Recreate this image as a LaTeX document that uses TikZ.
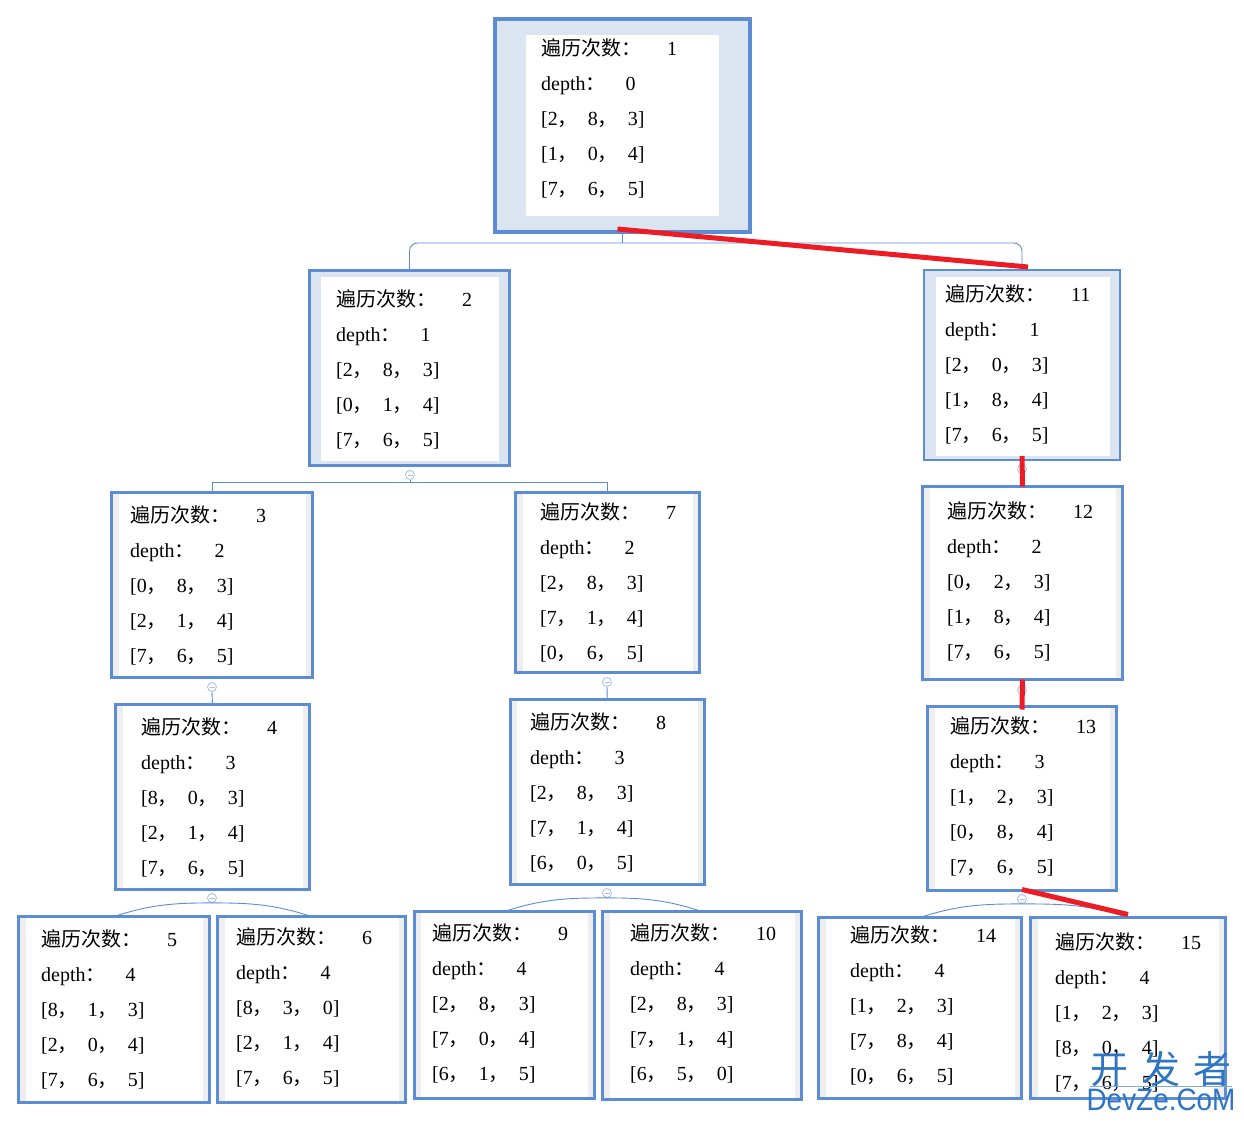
\documentclass[tikz,border=0pt]{standalone}
\usepackage{fontspec}
\setmainfont{Liberation Serif}
\newfontfamily\cjk{Noto Sans CJK SC}
\newfontfamily\marksans{Liberation Sans}
\usetikzlibrary{positioning}

\definecolor{edgeblue}{RGB}{91,140,212}
\definecolor{paleblue}{RGB}{219,228,241}
\definecolor{stripgray}{RGB}{238,238,238}
\definecolor{foldblue}{RGB}{165,190,232}
\definecolor{pathred}{RGB}{237,28,36}
\definecolor{markblue}{RGB}{46,117,196}

% one row of the board, one whole visit
\newcommand\grid[3]{[#1{\cjk ，}\hspace{10pt}#2{\cjk ，}\hspace{10pt}#3]}
\newcommand\visit[5]{{\cjk 遍历次数：}\hspace{26pt}#1\\depth{\cjk ：}\hspace{20pt}#2\\\grid#3\\\grid#4\\\grid#5}

\begin{document}
\begin{tikzpicture}[
        x=1pt, y=1pt,
        box/.style={draw=edgeblue, anchor=north west, inner sep=0pt, outer sep=0pt, line width=3pt},
        inset/.style n args={4}{path picture={\fill[white] ([shift={(#1pt,-#2pt)}]path picture bounding box.north west) rectangle ([shift={(-#3pt,#4pt)}]path picture bounding box.south east);}},
        donebox/.style={box, fill=paleblue, line width=2.5pt, inset={11.5}{6.5}{10.5}{4.5}},
        openbox/.style={box, fill=stripgray, inset={7}{1.5}{7}{1.5}},
        info/.style={anchor=base west, align=left, inner sep=0pt, font=\fontsize{20}{35}\selectfont},
        fold/.style={circle, draw=foldblue, fill=white, line width=0.8pt, minimum size=9pt, inner sep=0pt,
            path picture={\draw[foldblue, line width=0.8pt] ([xshift=-2.5pt]path picture bounding box.center) -- ([xshift=2.5pt]path picture bounding box.center);}},
        link/.style={draw=edgeblue, line width=0.9pt},
        route/.style={draw=pathred, line width=5pt},
        markcjk/.style={inner sep=0pt, text=markblue, font=\cjk\fontsize{38}{38}\selectfont},
        marklatin/.style={inner sep=0pt, text=markblue, font=\marksans\fontsize{31}{31}\selectfont}
    ]
        \useasboundingbox (0,0) rectangle (1244,-1121);

        % depth 0 (text nodes sit on the baseline of their last row)
        \node[donebox, inset={31}{16}{31}{16}, line width=4pt, minimum width=255pt, minimum height=213pt] (b1) at (495,-19) {};
        \node[info] (t1) at (541,-195) {\visit{1}{0}{{2}{8}{3}}{{1}{0}{4}}{{7}{6}{5}}};

        % depth 1
        \node[donebox, minimum width=200pt, minimum height=195pt] (b2) at (309.5,-270.5) {};
        \node[info] (t2) at (336,-446) {\visit{2}{1}{{2}{8}{3}}{{0}{1}{4}}{{7}{6}{5}}};
        \node[donebox, minimum width=196pt, minimum height=190pt] (b11) at (924,-270) {};
        \node[info] (t11) at (945,-441) {\visit{11}{1}{{2}{0}{3}}{{1}{8}{4}}{{7}{6}{5}}};

        % depth 2
        \node[openbox, minimum width=201pt, minimum height=185pt] (b3) at (111.5,-492.5) {};
        \node[info] (t3) at (130,-662) {\visit{3}{2}{{0}{8}{3}}{{2}{1}{4}}{{7}{6}{5}}};
        \node[openbox, minimum width=184pt, minimum height=180pt] (b7) at (515.5,-492.5) {};
        \node[info] (t7) at (540,-659) {\visit{7}{2}{{2}{8}{3}}{{7}{1}{4}}{{0}{6}{5}}};
        \node[openbox, minimum width=200pt, minimum height=193pt] (b12) at (922.5,-486.5) {};
        \node[info] (t12) at (947,-658) {\visit{12}{2}{{0}{2}{3}}{{1}{8}{4}}{{7}{6}{5}}};

        % depth 3
        \node[openbox, minimum width=194pt, minimum height=185pt] (b4) at (115.5,-704.5) {};
        \node[info] (t4) at (141,-874) {\visit{4}{3}{{8}{0}{3}}{{2}{1}{4}}{{7}{6}{5}}};
        \node[openbox, minimum width=194.5pt, minimum height=185pt] (b8) at (510,-699.5) {};
        \node[info] (t8) at (530,-869) {\visit{8}{3}{{2}{8}{3}}{{7}{1}{4}}{{6}{0}{5}}};
        \node[openbox, minimum width=189pt, minimum height=184pt] (b13) at (927.5,-706.5) {};
        \node[info] (t13) at (950,-873) {\visit{13}{3}{{1}{2}{3}}{{0}{8}{4}}{{7}{6}{5}}};

        % depth 4
        \node[openbox, minimum width=191pt, minimum height=186pt] (b5) at (18.5,-916.5) {};
        \node[info] (t5) at (41,-1086) {\visit{5}{4}{{8}{1}{3}}{{2}{0}{4}}{{7}{6}{5}}};
        \node[openbox, minimum width=188pt, minimum height=186pt] (b6) at (217.5,-916.5) {};
        \node[info] (t6) at (236,-1084) {\visit{6}{4}{{8}{3}{0}}{{2}{1}{4}}{{7}{6}{5}}};
        \node[openbox, minimum width=180.5pt, minimum height=187pt] (b9) at (414,-911.5) {};
        \node[info] (t9) at (432,-1080) {\visit{9}{4}{{2}{8}{3}}{{7}{0}{4}}{{6}{1}{5}}};
        \node[openbox, minimum width=199pt, minimum height=188pt] (b10) at (602.5,-911.5) {};
        \node[info] (t10) at (630,-1080) {\visit{10}{4}{{2}{8}{3}}{{7}{1}{4}}{{6}{5}{0}}};
        \node[openbox, minimum width=203pt, minimum height=181pt] (b14) at (818.5,-917.5) {};
        \node[info] (t14) at (850,-1082) {\visit{14}{4}{{1}{2}{3}}{{7}{8}{4}}{{0}{6}{5}}};
        \node[openbox, minimum width=195pt, minimum height=181pt] (b15) at (1030.5,-917.5) {};
        \node[info] (t15) at (1055,-1089) {\visit{15}{4}{{1}{2}{3}}{{8}{0}{4}}{{7}{6}{5}}};

        % tree links
        \coordinate (j1) at ([yshift=-11pt]b1.south);
        \draw[link] (b1.south) -- (j1);
        \draw[link, rounded corners=8pt] (j1) -| (b2.north);
        \draw[link, rounded corners=8pt] (j1) -| (b11.north);

        \node[fold] (f2) at (410,-475) {};
        \coordinate (j2) at ([yshift=-3pt]f2.south);
        \draw[link] (f2.south) -- (j2);
        \draw[link] (j2) -| (b3.north);
        \draw[link] (j2) -| (b7.north);

        \node[fold] (f3) at (212,-687) {};
        \draw[link] (f3.south) -- (b4.north);
        \node[fold] (f7) at (607,-682) {};
        \draw[link] (f7.south) -- (b8.north);
        \node[fold] (f11) at (1022,-469) {};
        \draw[link] (f11.south) -- (b12.north);
        \node[fold] (f12) at (1022,-690) {};
        \draw[link] (f12.south) -- (b13.north);

        \node[fold] (f4) at (212,-898) {};
        \draw[link] (f4.south) to[out=180, in=18] (b5.north);
        \draw[link] (f4.south) to[out=0, in=162] (b6.north);
        \node[fold] (f8) at (607,-893) {};
        \draw[link] (f8.south) to[out=180, in=18] (b9.north);
        \draw[link] (f8.south) to[out=0, in=162] (b10.north);
        \node[fold] (f13) at (1022,-899) {};
        \draw[link] (f13.south) to[out=180, in=18] (b14.north);
        \draw[link] (f13.south) to[out=0, in=162] (b15.north);

        % search path
        \draw[route] ([shift={(-5pt,3pt)}]b1.south) -- ([shift={(6pt,3pt)}]b11.north);
        \draw[route] ([yshift=4pt]b11.south) -- (b12.north);
        \draw[route] (b12.south) -- ([yshift=-3pt]b13.north);
        \draw[route] ([yshift=1pt]b13.south) -- ([yshift=3pt]b15.north);

        % watermark
        \node[markcjk] (wm) at (1161,-1069) {开\hspace{14pt}发\hspace{14pt}者};
        \draw[draw=markblue!60, line width=0.8pt] (wm.south west) -- (wm.south east);
        \node[marklatin] (wmlatin) at (1161,-1100) {\scalebox{0.9}[1]{DevZe.CoM}};
    \end{tikzpicture}
\end{document}
